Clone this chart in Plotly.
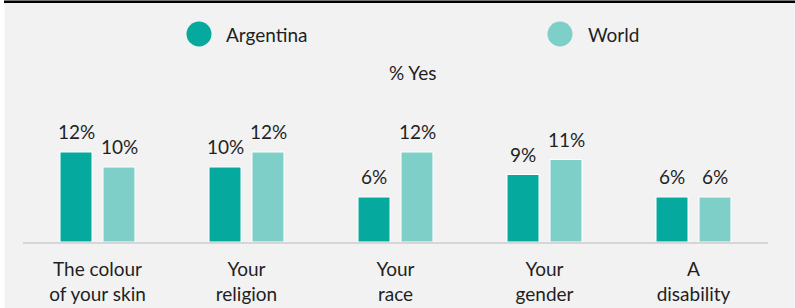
import plotly.graph_objects as go

categories = ["The colour<br>of your skin", "Your<br>religion", "Your<br>race", "Your<br>gender", "A<br>disability"]
argentina = [12, 10, 6, 9, 6]
world = [10, 12, 12, 11, 6]
series_names = ["Argentina", "World"]
chart_title = "% Yes"

C_ARG = "#06a99d"
C_WLD = "#7ecfc8"
TXT = "#1f1f1f"
FONT = "Lato, Open Sans, sans-serif"
FS = 19

W, H = 795, 308
L, R, T, B = 23, 27, 137, 66
pw = W - L - R
ph = H - T - B
SLOT = 43  # pixel offset between the two bars of a group

def px_x(p):
    return (p - L) / pw

def px_y(p):
    return (H - B - p) / ph

fig = go.Figure()
annotations = []
for i, (name, vals, col) in enumerate([(series_names[0], argentina, C_ARG), (series_names[1], world, C_WLD)]):
    fig.add_trace(go.Bar(
        x=categories, y=vals, name=name,
        marker=dict(color=col, line=dict(color="white", width=1)),
        showlegend=False, hoverinfo="skip",
    ))
    for c, v in zip(categories, vals):
        annotations.append(dict(text=f"{v}%", x=c, y=v, xref="x", yref="y", showarrow=False,
                                xanchor="center", yanchor="bottom", xshift=(i - 0.5) * SLOT, yshift=7,
                                font=dict(size=FS, color=TXT, family=FONT)))

shapes = [
    dict(type="rect", xref="paper", yref="paper", x0=px_x(0), x1=px_x(4.5), y0=px_y(H), y1=px_y(0),
         fillcolor="white", line=dict(width=0), layer="below"),
    dict(type="rect", xref="paper", yref="paper", x0=px_x(4), x1=px_x(W), y0=px_y(3), y1=px_y(0.5),
         fillcolor="black", line=dict(width=0)),
]
annotations.append(dict(text=chart_title, xref="paper", yref="paper", x=px_x(412), y=px_y(72),
                        showarrow=False, font=dict(size=FS, color=TXT, family=FONT),
                        xanchor="center", yanchor="middle"))
for name, col, cx, tx in [(series_names[0], C_ARG, 199, 224), (series_names[1], C_WLD, 560, 586)]:
    r = 12.5
    shapes.append(dict(type="circle", xref="paper", yref="paper",
                       x0=px_x(cx - r), x1=px_x(cx + r), y0=px_y(34 + r), y1=px_y(34 - r),
                       fillcolor=col, line=dict(width=0)))
    annotations.append(dict(text=name, xref="paper", yref="paper", x=px_x(tx), y=px_y(34),
                            showarrow=False, xanchor="left", yanchor="middle",
                            font=dict(size=FS, color=TXT, family=FONT)))

fig.update_layout(
    width=W, height=H,
    margin=dict(l=L, r=R, t=T, b=B, pad=0, autoexpand=False),
    paper_bgcolor="#f2f2f2", plot_bgcolor="#f2f2f2",
    barmode="group", bargap=0.423, bargroupgap=0.256,
    font=dict(family=FONT, color=TXT),
    shapes=shapes, annotations=annotations,
    xaxis=dict(showline=True, linecolor="#d6d6d6", linewidth=2, showgrid=False, zeroline=False,
               ticks="", ticklabelstandoff=9, tickfont=dict(size=FS, color=TXT, family=FONT),
               automargin=False, fixedrange=True),
    yaxis=dict(range=[0, 14], visible=False, showgrid=False, zeroline=False, automargin=False,
               fixedrange=True),
)

fig.write_html("out.html", config={"displayModeBar": False},
               post_script="document.body.style.margin='0';document.body.style.overflow='hidden';")
